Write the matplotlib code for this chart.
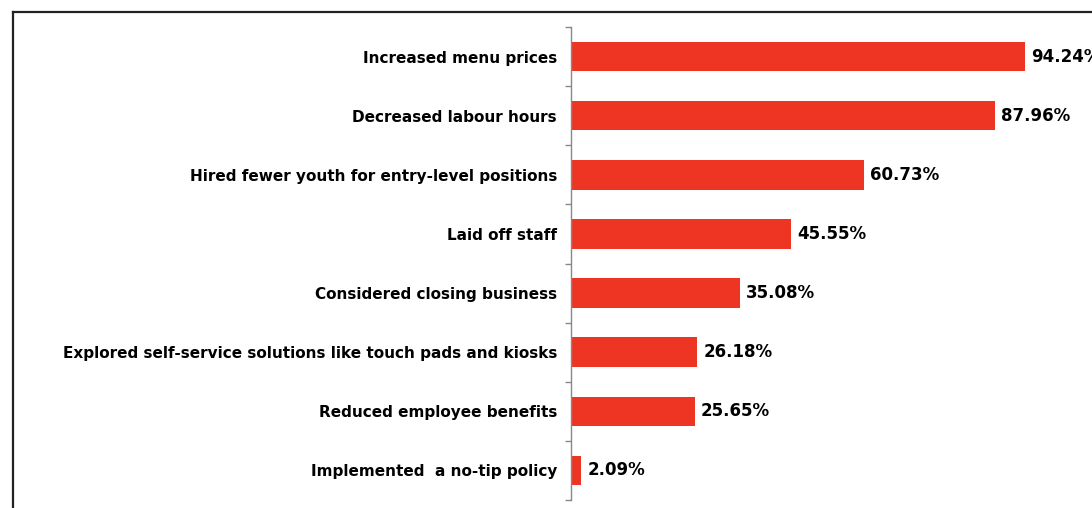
import matplotlib.pyplot as plt
from matplotlib.lines import Line2D

actions = [
    "Increased menu prices",
    "Decreased labour hours",
    "Hired fewer youth for entry-level positions",
    "Laid off staff",
    "Considered closing business",
    "Explored self-service solutions like touch pads and kiosks",
    "Reduced employee benefits",
    "Implemented  a no-tip policy",
]
shares = [94.24, 87.96, 60.73, 45.55, 35.08, 26.18, 25.65, 2.09]
share_labels = ["94.24%", "87.96%", "60.73%", "45.55%", "35.08%", "26.18%", "25.65%", "2.09%"]

W, H = 1092, 508
fig = plt.figure(figsize=(W / 100, H / 100), dpi=100)
ax = fig.add_axes([571 / W, 8 / H, 482 / W, 473 / H])

pos = list(range(len(actions)))
ax.barh(pos, shares, height=0.5, color="#EE3524")
ax.set_xlim(0, 100)
ax.set_ylim(len(actions) - 0.5, -0.5)

for y, v, txt in zip(pos, shares, share_labels):
    ax.annotate(txt, (v, y), xytext=(4.5, 0), textcoords="offset points",
                va="center", ha="left", fontsize=12, fontweight="bold",
                color="#000000", annotation_clip=False)

ax.set_yticks(pos)
ax.set_yticklabels(actions, fontsize=11, fontweight="bold", color="#000000")
ax.tick_params(axis="y", which="major", length=0, pad=10)
ax.set_yticks([p - 0.5 for p in pos] + [len(actions) - 0.5], minor=True)
ax.tick_params(axis="y", which="minor", length=4, color="#888888", width=1)
ax.set_xticks([])
for s in ["top", "right", "bottom"]:
    ax.spines[s].set_visible(False)
ax.spines["left"].set_color("#888888")
ax.spines["left"].set_linewidth(1)

# outer frame, open to the right and bottom
fig.add_artist(Line2D([13 / W, 13 / W], [0, 1 - 12 / H], color="#222222", lw=1.6,
                      solid_capstyle="projecting"))
fig.add_artist(Line2D([13 / W, 1], [1 - 12 / H, 1 - 12 / H], color="#222222", lw=1.6,
                      solid_capstyle="projecting"))

fig.savefig("out.png", dpi=100)
